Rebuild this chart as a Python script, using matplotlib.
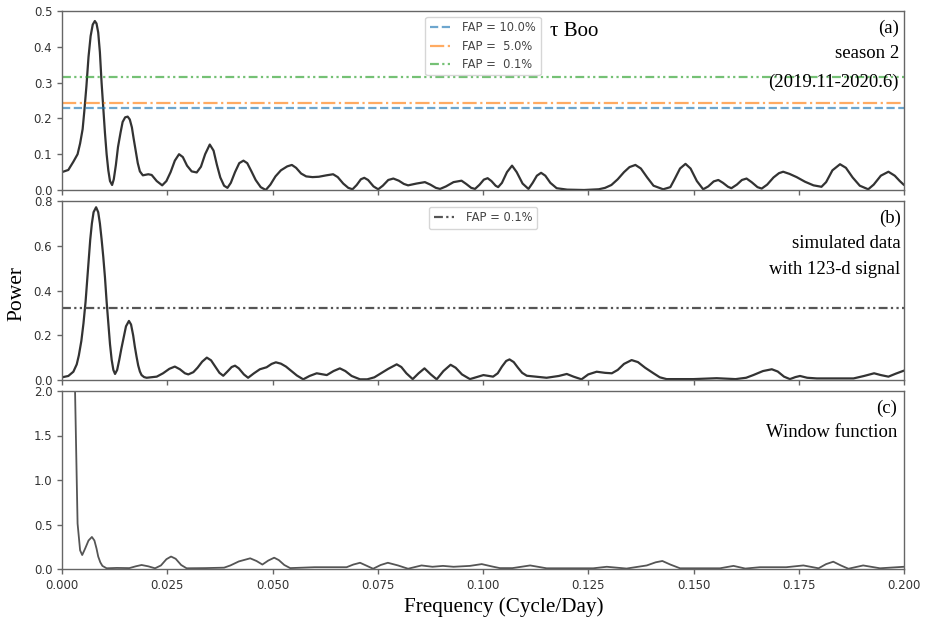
import matplotlib
matplotlib.use("Agg")
import matplotlib.pyplot as plt

# ---------------- data (frequency [cycle/day], power) ----------------
curve_a = [
    (0.0000, 0.050), (0.0015, 0.056), (0.0027, 0.079), (0.0037, 0.100), (0.0043, 0.130),
    (0.0049, 0.170), (0.0053, 0.220), (0.0058, 0.290), (0.0063, 0.372), (0.0068, 0.430),
    (0.0073, 0.462), (0.0078, 0.472), (0.0082, 0.465), (0.0086, 0.440), (0.0090, 0.385),
    (0.0094, 0.300), (0.0098, 0.230), (0.0102, 0.160), (0.0106, 0.100), (0.0110, 0.055),
    (0.0114, 0.025), (0.0119, 0.014), (0.0123, 0.030), (0.0128, 0.070), (0.0133, 0.120),
    (0.0139, 0.160), (0.0144, 0.190), (0.0150, 0.203), (0.0156, 0.205), (0.0161, 0.197),
    (0.0166, 0.175), (0.0170, 0.145), (0.0175, 0.110), (0.0180, 0.075), (0.0185, 0.052),
    (0.0192, 0.041), (0.0205, 0.044), (0.0213, 0.042), (0.0225, 0.025), (0.0238, 0.013),
    (0.0248, 0.025), (0.0258, 0.050), (0.0268, 0.082), (0.0278, 0.100), (0.0287, 0.092),
    (0.0297, 0.068), (0.0308, 0.052), (0.0320, 0.049), (0.0330, 0.065), (0.0340, 0.100),
    (0.0351, 0.127), (0.0360, 0.110), (0.0368, 0.070), (0.0376, 0.035), (0.0385, 0.012),
    (0.0393, 0.006), (0.0401, 0.020), (0.0411, 0.050), (0.0421, 0.075), (0.0431, 0.082),
    (0.0440, 0.075), (0.0450, 0.052), (0.0460, 0.028), (0.0472, 0.008), (0.0484, 0.000),
    (0.0495, 0.015), (0.0507, 0.038), (0.0520, 0.055), (0.0535, 0.066), (0.0546, 0.070),
    (0.0556, 0.062), (0.0568, 0.046), (0.0580, 0.038), (0.0595, 0.036), (0.0610, 0.037),
    (0.0628, 0.041), (0.0644, 0.044), (0.0655, 0.036), (0.0668, 0.018), (0.0680, 0.006),
    (0.0690, 0.002), (0.0700, 0.014), (0.0710, 0.030), (0.0718, 0.034), (0.0727, 0.028),
    (0.0740, 0.010), (0.0751, 0.002), (0.0762, 0.012), (0.0775, 0.028), (0.0787, 0.032),
    (0.0800, 0.026), (0.0812, 0.017), (0.0822, 0.013), (0.0842, 0.018), (0.0862, 0.022),
    (0.0875, 0.015), (0.0888, 0.006), (0.0898, 0.003), (0.0912, 0.010), (0.0930, 0.022),
    (0.0949, 0.026), (0.0960, 0.017), (0.0972, 0.006), (0.0981, 0.003), (0.0992, 0.015),
    (0.1002, 0.029), (0.1011, 0.033), (0.1020, 0.025), (0.1030, 0.012), (0.1036, 0.008),
    (0.1045, 0.020), (0.1057, 0.050), (0.1069, 0.068), (0.1080, 0.050), (0.1094, 0.018),
    (0.1108, 0.003), (0.1118, 0.020), (0.1128, 0.040), (0.1138, 0.048), (0.1148, 0.040),
    (0.1160, 0.020), (0.1175, 0.005), (0.1200, 0.001), (0.1240, 0.000), (0.1275, 0.002),
    (0.1290, 0.006), (0.1305, 0.014), (0.1320, 0.030), (0.1335, 0.050), (0.1348, 0.064),
    (0.1362, 0.070), (0.1375, 0.060), (0.1390, 0.035), (0.1405, 0.012), (0.1428, 0.002),
    (0.1445, 0.008), (0.1455, 0.030), (0.1468, 0.060), (0.1481, 0.073), (0.1493, 0.060),
    (0.1508, 0.025), (0.1523, 0.002), (0.1535, 0.010), (0.1548, 0.024), (0.1559, 0.028),
    (0.1570, 0.020), (0.1582, 0.009), (0.1590, 0.005), (0.1603, 0.015), (0.1615, 0.028),
    (0.1626, 0.032), (0.1638, 0.022), (0.1652, 0.008), (0.1662, 0.004), (0.1675, 0.015),
    (0.1690, 0.035), (0.1703, 0.047), (0.1713, 0.051), (0.1728, 0.045), (0.1745, 0.036),
    (0.1765, 0.023), (0.1785, 0.013), (0.1804, 0.009), (0.1815, 0.022), (0.1830, 0.055),
    (0.1848, 0.072), (0.1862, 0.062), (0.1878, 0.035), (0.1895, 0.012), (0.1915, 0.002),
    (0.1928, 0.015), (0.1945, 0.040), (0.1963, 0.051), (0.1978, 0.040), (0.1990, 0.025),
    (0.2000, 0.014),
]
fap_a_levels = [0.228, 0.243, 0.316]
fap_a_labels = ["FAP = 10.0%", "FAP =  5.0%", "FAP =  0.1%"]

curve_b = [
    (0.0000, 0.012), (0.0015, 0.018), (0.0027, 0.037), (0.0035, 0.070), (0.0040, 0.110),
    (0.0046, 0.175), (0.0051, 0.253), (0.0056, 0.350), (0.0060, 0.450), (0.0064, 0.550),
    (0.0067, 0.626), (0.0071, 0.700), (0.0075, 0.750), (0.0081, 0.772), (0.0086, 0.750),
    (0.0090, 0.700), (0.0094, 0.630), (0.0098, 0.551), (0.0102, 0.460), (0.0106, 0.350),
    (0.0110, 0.253), (0.0114, 0.160), (0.0118, 0.090), (0.0122, 0.045), (0.0126, 0.027),
    (0.0131, 0.045), (0.0136, 0.090), (0.0141, 0.140), (0.0146, 0.185), (0.0152, 0.240),
    (0.0159, 0.264), (0.0164, 0.248), (0.0169, 0.200), (0.0173, 0.149), (0.0177, 0.105),
    (0.0181, 0.065), (0.0185, 0.038), (0.0189, 0.022), (0.0195, 0.013), (0.0201, 0.010),
    (0.0225, 0.015), (0.0240, 0.030), (0.0255, 0.050), (0.0268, 0.060), (0.0280, 0.048),
    (0.0292, 0.030), (0.0300, 0.025), (0.0312, 0.035), (0.0322, 0.055), (0.0333, 0.082),
    (0.0344, 0.100), (0.0354, 0.088), (0.0364, 0.060), (0.0374, 0.032), (0.0383, 0.019),
    (0.0393, 0.038), (0.0403, 0.058), (0.0411, 0.064), (0.0420, 0.052), (0.0432, 0.025),
    (0.0442, 0.010), (0.0456, 0.030), (0.0470, 0.048), (0.0486, 0.057), (0.0498, 0.072),
    (0.0508, 0.079), (0.0520, 0.073), (0.0532, 0.060), (0.0545, 0.040), (0.0558, 0.020),
    (0.0573, 0.003), (0.0588, 0.018), (0.0605, 0.030), (0.0620, 0.025), (0.0629, 0.022),
    (0.0645, 0.040), (0.0660, 0.052), (0.0673, 0.040), (0.0688, 0.018), (0.0708, 0.003),
    (0.0725, 0.003), (0.0742, 0.012), (0.0755, 0.027), (0.0775, 0.050), (0.0795, 0.070),
    (0.0806, 0.058), (0.0818, 0.030), (0.0833, 0.004), (0.0847, 0.030), (0.0861, 0.052),
    (0.0876, 0.025), (0.0890, 0.003), (0.0906, 0.040), (0.0923, 0.068), (0.0935, 0.055),
    (0.0950, 0.025), (0.0969, 0.004), (0.1001, 0.022), (0.1024, 0.015), (0.1035, 0.030),
    (0.1045, 0.060), (0.1055, 0.085), (0.1063, 0.092), (0.1073, 0.080), (0.1083, 0.055),
    (0.1093, 0.032), (0.1104, 0.019), (0.1151, 0.010), (0.1180, 0.018), (0.1199, 0.027),
    (0.1215, 0.015), (0.1234, 0.003), (0.1250, 0.025), (0.1270, 0.037), (0.1290, 0.032),
    (0.1306, 0.030), (0.1320, 0.045), (0.1335, 0.072), (0.1353, 0.089), (0.1368, 0.080),
    (0.1385, 0.055), (0.1405, 0.030), (0.1420, 0.012), (0.1436, 0.004), (0.1500, 0.004),
    (0.1555, 0.008), (0.1600, 0.004), (0.1625, 0.010), (0.1642, 0.022), (0.1665, 0.040),
    (0.1686, 0.048), (0.1700, 0.038), (0.1715, 0.015), (0.1729, 0.004), (0.1742, 0.013),
    (0.1753, 0.018), (0.1770, 0.010), (0.1793, 0.007), (0.1880, 0.007), (0.1905, 0.018),
    (0.1929, 0.030), (0.1945, 0.022), (0.1963, 0.015), (0.1980, 0.028), (0.2000, 0.042),
]
fap_b_level = 0.32
fap_b_label = "FAP = 0.1%"

curve_c = [
    (0.0028, 4.000), (0.0031, 2.000), (0.0035, 1.000), (0.0037, 0.510), (0.0043, 0.210),
    (0.0048, 0.157), (0.0055, 0.230), (0.0063, 0.320), (0.0071, 0.360), (0.0077, 0.320),
    (0.0082, 0.230), (0.0086, 0.140), (0.0091, 0.075), (0.0096, 0.035), (0.0106, 0.008),
    (0.0130, 0.012), (0.0160, 0.010), (0.0175, 0.030), (0.0189, 0.045), (0.0205, 0.030),
    (0.0221, 0.008), (0.0235, 0.040), (0.0248, 0.110), (0.0259, 0.140), (0.0270, 0.115),
    (0.0283, 0.045), (0.0296, 0.008), (0.0340, 0.010), (0.0385, 0.015), (0.0400, 0.040),
    (0.0420, 0.085), (0.0447, 0.120), (0.0462, 0.090), (0.0476, 0.050), (0.0490, 0.095),
    (0.0504, 0.127), (0.0515, 0.100), (0.0528, 0.045), (0.0542, 0.010), (0.0600, 0.020),
    (0.0676, 0.020), (0.0692, 0.050), (0.0708, 0.070), (0.0722, 0.040), (0.0739, 0.003),
    (0.0757, 0.045), (0.0774, 0.070), (0.0798, 0.040), (0.0822, 0.003), (0.0854, 0.040),
    (0.0880, 0.025), (0.0905, 0.035), (0.0930, 0.025), (0.0969, 0.035), (0.0997, 0.055),
    (0.1020, 0.030), (0.1040, 0.010), (0.1070, 0.010), (0.1112, 0.040), (0.1151, 0.008),
    (0.1262, 0.008), (0.1294, 0.025), (0.1341, 0.005), (0.1389, 0.040), (0.1410, 0.075),
    (0.1426, 0.090), (0.1445, 0.050), (0.1468, 0.008), (0.1563, 0.008), (0.1595, 0.035),
    (0.1623, 0.005), (0.1658, 0.020), (0.1720, 0.020), (0.1761, 0.040), (0.1797, 0.008),
    (0.1815, 0.055), (0.1832, 0.082), (0.1850, 0.040), (0.1868, 0.003), (0.1903, 0.040),
    (0.1943, 0.008), (0.2000, 0.025),
]

freq_a = [f for f, _ in curve_a]
power_a = [p for _, p in curve_a]
freq_b = [f for f, _ in curve_b]
power_b = [p for _, p in curve_b]
freq_c = [f for f, _ in curve_c]
power_c = [p for _, p in curve_c]

xticks = [0.000, 0.025, 0.050, 0.075, 0.100, 0.125, 0.150, 0.175, 0.200]
yticks_a = [0.0, 0.1, 0.2, 0.3, 0.4, 0.5]
yticks_b = [0.0, 0.2, 0.4, 0.6, 0.8]
yticks_c = [0.0, 0.5, 1.0, 1.5, 2.0]

# ---------------- figure ----------------
W, H = 932, 622
fig = plt.figure(figsize=(W / 100, H / 100), dpi=100)

def px_axes(left, top, right, bottom):
    return fig.add_axes([left / W, 1 - bottom / H, (right - left) / W, (bottom - top) / H])

ax_a = px_axes(62, 11, 904, 190)
ax_b = px_axes(62, 201, 904, 380)
ax_c = px_axes(62, 391, 904, 569)

serif = "Liberation Serif"
tick_col = "#333333"
spine_col = "#666666"

for ax in (ax_a, ax_b, ax_c):
    ax.set_xlim(0, 0.2)
    ax.set_xticks(xticks)
    for s in ax.spines.values():
        s.set_color(spine_col)
        s.set_linewidth(1.0)
    ax.tick_params(colors=spine_col, labelcolor=tick_col, labelsize=8.5, length=3.5, width=1.0)

line_kw = dict(solid_joinstyle="round", solid_capstyle="round")

# panel a
ax_a.plot(freq_a, power_a, color="#333333", lw=1.6, **line_kw)
fap_styles = [("C0", "--"), ("C1", "-."), ("C2", (0, (4, 1.5, 1, 1.5, 1, 1.5)))]
for lvl, lab, (c, ls) in zip(fap_a_levels, fap_a_labels, fap_styles):
    ax_a.axhline(lvl, color=c, ls=ls, lw=1.6, alpha=0.65, label=lab)
ax_a.set_ylim(0, 0.5)
ax_a.set_yticks(yticks_a)
ax_a.set_xticklabels([])
leg = ax_a.legend(loc="upper center", fontsize=8.3, handlelength=2.0, borderaxespad=0.5,
                  labelspacing=0.45)
for t in leg.get_texts():
    t.set_color("#444444")
fig.text(550 / W, 1 - 31 / H, "τ Boo", fontsize=15, family=serif, va="center", ha="left")
ax_a.text(0.994, 0.905, "(a)", transform=ax_a.transAxes, fontsize=13.5, family=serif, ha="right", va="center")
ax_a.text(0.994, 0.765, "season 2", transform=ax_a.transAxes, fontsize=13.5, family=serif, ha="right", va="center")
ax_a.text(0.994, 0.603, "(2019.11-2020.6)", transform=ax_a.transAxes, fontsize=13.5, family=serif, ha="right", va="center")

# panel b
ax_b.plot(freq_b, power_b, color="#333333", lw=1.6, **line_kw)
ax_b.axhline(fap_b_level, color="#555555", ls=(0, (4, 1.5, 1, 1.5, 1, 1.5)), lw=1.6, label=fap_b_label)
ax_b.set_ylim(0, 0.8)
ax_b.set_yticks(yticks_b)
ax_b.set_xticklabels([])
leg = ax_b.legend(loc="upper center", fontsize=8.3, handlelength=2.0, borderaxespad=0.5)
for t in leg.get_texts():
    t.set_color("#444444")
ax_b.text(0.996, 0.903, "(b)", transform=ax_b.transAxes, fontsize=13.5, family=serif, ha="right", va="center")
ax_b.text(0.996, 0.764, "simulated data", transform=ax_b.transAxes, fontsize=13.5, family=serif, ha="right", va="center")
ax_b.text(0.996, 0.615, "with 123-d signal", transform=ax_b.transAxes, fontsize=13.5, family=serif, ha="right", va="center")

# panel c
ax_c.plot(freq_c, power_c, color="#555555", lw=1.3, **line_kw)
ax_c.set_ylim(0, 2.0)
ax_c.set_yticks(yticks_c)
ax_c.set_xticklabels([f"{v:.3f}" for v in xticks])
ax_c.text(0.992, 0.903, "(c)", transform=ax_c.transAxes, fontsize=13.5, family=serif, ha="right", va="center")
ax_c.text(0.992, 0.768, "Window function", transform=ax_c.transAxes, fontsize=13.5, family=serif, ha="right", va="center")

fig.text(17 / W, 1 - 293 / H, "Power", rotation=90, fontsize=15.5, family=serif, ha="center", va="center")
fig.text(504 / W, 1 - 612 / H, "Frequency (Cycle/Day)", fontsize=15.2, family=serif, ha="center", va="baseline")

fig.savefig("out.png", dpi=100)
